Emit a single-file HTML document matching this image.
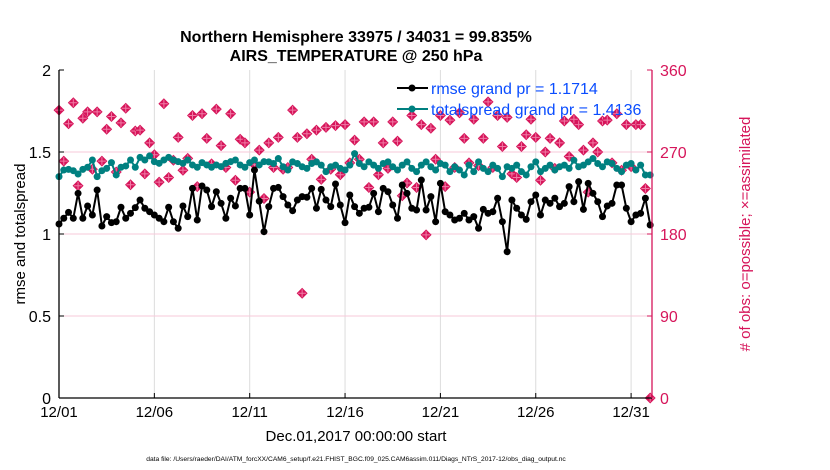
<!DOCTYPE html>
<html><head><meta charset="utf-8"><style>
body{margin:0;background:#fff;}
svg{display:block;font-family:"Liberation Sans",sans-serif;}
</style></head><body>
<svg id="chart" width="830" height="470" viewBox="0 0 830 470" xmlns="http://www.w3.org/2000/svg">
<rect width="830" height="470" fill="#fff"/>
<g id="grid"></g>
<g id="marks"></g>
<g id="axes"></g>
<text x="356" y="42" font-size="16" font-weight="bold" text-anchor="middle">Northern Hemisphere 33975 / 34031 = 99.835%</text>
<text x="356" y="61" font-size="16" font-weight="bold" text-anchor="middle">AIRS_TEMPERATURE @ 250 hPa</text>
<text transform="translate(25,234) rotate(-90)" font-size="15" text-anchor="middle">rmse and totalspread</text>
<text transform="translate(750,234) rotate(-90)" font-size="15" fill="#d6155a" text-anchor="middle"># of obs: o=possible; ×=assimilated</text>
<text x="356" y="441" font-size="15" text-anchor="middle">Dec.01,2017 00:00:00 start</text>
<text x="356" y="461" font-size="6.7" text-anchor="middle">data file: /Users/raeder/DAI/ATM_forcXX/CAM6_setup/f.e21.FHIST_BGC.f09_025.CAM6assim.011/Diags_NTrS_2017-12/obs_diag_output.nc</text>
<g id="marks2"></g>
<g>
<line x1="397" y1="88" x2="428" y2="88" stroke="#000" stroke-width="2"/><circle cx="412" cy="88" r="3.5" fill="#000"/>
<text x="431" y="94" font-size="16" fill="#0a4dff">rmse grand pr = 1.1714</text>
<line x1="397" y1="109" x2="428" y2="109" stroke="#008080" stroke-width="2"/><circle cx="412" cy="109" r="3.5" fill="#008080"/>
<text x="431" y="115" font-size="16" fill="#0a4dff">totalspread grand pr = 1.4136</text>
</g>
</svg>
<script>
const rmse=[1.061,1.096,1.132,1.096,1.248,1.096,1.171,1.116,1.268,1.049,1.106,1.069,1.075,1.163,1.096,1.126,1.161,1.207,1.157,1.136,1.116,1.096,1.075,1.163,1.075,1.035,1.171,1.106,1.278,1.085,1.293,1.268,1.167,1.258,1.187,1.096,1.218,1.171,1.278,1.278,1.116,1.39,1.2,1.014,
1.167,1.278,1.284,1.228,1.177,1.142,1.207,1.228,1.224,1.278,1.157,1.272,1.207,1.167,1.305,1.177,1.069,1.238,1.167,1.126,1.157,1.163,1.248,1.136,1.278,1.258,1.177,1.096,1.299,1.248,1.157,1.146,1.329,1.146,1.228,1.075,1.309,1.136,1.116,1.085,
1.096,1.126,1.085,1.106,1.035,1.150,1.126,1.136,1.218,1.075,0.892,1.207,1.157,1.116,1.089,1.197,1.238,1.116,1.207,1.187,1.218,1.167,1.187,1.289,1.197,1.319,1.150,1.309,1.248,1.197,1.106,1.171,1.187,1.299,1.299,1.157,1.075,1.116,1.126,1.218,1.055];
const spread=[1.350,1.390,1.394,1.386,1.366,1.394,1.407,1.451,1.350,1.386,1.400,1.435,1.360,1.407,1.415,1.451,1.407,1.467,1.451,1.476,1.441,1.431,1.451,1.467,1.451,1.441,1.431,1.451,1.421,1.407,1.435,1.421,1.407,1.421,1.411,1.431,1.441,1.451,1.421,1.407,1.435,1.451,1.421,1.441,
1.44,1.43,1.46,1.41,1.39,1.44,1.43,1.41,1.40,1.43,1.44,1.42,1.38,1.41,1.42,1.40,1.39,1.42,1.49,1.43,1.41,1.44,1.42,1.40,1.43,1.44,1.41,1.39,1.42,1.44,1.40,1.38,1.42,1.44,1.41,1.39,1.43,1.42,1.38,1.41,
1.39,1.36,1.42,1.38,1.44,1.40,1.38,1.42,1.40,1.35,1.41,1.40,1.42,1.38,1.36,1.41,1.44,1.38,1.40,1.42,1.39,1.41,1.42,1.40,1.45,1.41,1.42,1.44,1.46,1.43,1.41,1.44,1.43,1.40,1.38,1.42,1.43,1.39,1.42,1.36,1.36];
const nobs=[316,260,301,324,233,307,314,251,314,260,295,309,248,302,318,234,293,294,246,280,267,237,323,242,261,286,250,263,310,232,312,285,257,317,277,253,312,239,284,280,226,256,272,219,
280,253,286,251,253,316,286,115,290,262,294,240,297,251,299,245,300,258,283,262,303,231,303,245,280,252,303,282,222,236,310,231,300,179,296,262,310,232,305,253,
313,285,258,306,255,285,325,253,310,276,308,246,242,276,289,306,286,239,270,285,252,280,304,265,306,300,272,226,280,270,304,305,258,312,250,300,254,300,300,230,0];
const xTickLabels=["12/01","12/06","12/11","12/16","12/21","12/26","12/31"];
const xTickDays=[0,5,10,15,20,25,30];
const yTicks=[0,0.5,1,1.5,2];
const yTickLabels=["0","0.5","1","1.5","2"];
const y2Ticks=[0,90,180,270,360];

const L=59,R=652,T=70,B=398;
const xs=d=>L+d*19.07;
const ys=v=>B-(v/2)*(B-T);
const y2s=v=>B-(v/360)*(B-T);
const NS="http://www.w3.org/2000/svg";
function mk(tag,attrs,parent){const e=document.createElementNS(NS,tag);for(const k in attrs)e.setAttribute(k,attrs[k]);parent.appendChild(e);return e;}
const grid=document.getElementById('grid'),marks=document.getElementById('marks'),axes=document.getElementById('axes');
xTickDays.forEach((d,i)=>{
  const g=mk('line',{x1:xs(d),x2:xs(d),y1:T,y2:B,stroke:'#dcdcdc','stroke-width':1},grid);
  
  
  const t=mk('text',{x:xs(d),y:B+19,'font-size':15,'text-anchor':'middle'},axes);
  t.textContent=xTickLabels[i];
  
  
  mk('line',{x1:xs(d),x2:xs(d),y1:B,y2:B-5,stroke:'#000'},axes);
});
yTicks.forEach((v,i)=>{
  if(v>0&&v<2){const g=mk('line',{x1:L,x2:R,y1:ys(v),y2:ys(v),stroke:'#f7c9da','stroke-width':1},grid);
  
  }
  const t=mk('text',{x:L-8,y:ys(v)+6,'font-size':16,'text-anchor':'end'},axes);
  t.textContent=yTickLabels[i];
  
  
  mk('line',{x1:L,x2:L+5,y1:ys(v),y2:ys(v),stroke:'#000'},axes);
});
y2Ticks.forEach(v=>{
  const t=mk('text',{x:R+8,y:y2s(v)+6,'font-size':16,fill:'#d6155a'},axes);
  t.textContent=String(v);
  
  
  mk('line',{x1:R,x2:R-5,y1:y2s(v),y2:y2s(v),stroke:'#d6155a'},axes);
});
mk('line',{x1:L,x2:L,y1:T,y2:B,stroke:'#000','stroke-width':1.3},axes);
mk('line',{x1:L,x2:R,y1:B,y2:B,stroke:'#000','stroke-width':1.3},axes);
mk('line',{x1:R,x2:R,y1:T,y2:B,stroke:'#d6155a','stroke-width':1.3},axes);
nobs.forEach((v,i)=>{
  const x=xs(i/4),y=y2s(v);
  const p=mk('path',{d:`M${x} ${y-5.5}L${x+5.5} ${y}L${x} ${y+5.5}L${x-5.5} ${y}Z`,fill:'#d6155a'},marks);
  
  
  const q=mk('path',{d:`M${x-4} ${y}H${x+4}M${x} ${y-4}V${y+4}`,stroke:'#f07aa5','stroke-width':1},marks);
  
  
});
function series(vals,color,name){
  const pts=vals.map((v,i)=>xs(i/4)+','+ys(v)).join(' ');
  const pl=mk('polyline',{points:pts,fill:'none',stroke:color,'stroke-width':2},marks);
  
  
  vals.forEach((v,i)=>{
    const c=mk('circle',{cx:xs(i/4),cy:ys(v),r:3.5,fill:color},marks);
    
    
  });
}
series(spread,'#008080','totalspread');
series(rmse,'#000','rmse');
</script>
</body></html>
